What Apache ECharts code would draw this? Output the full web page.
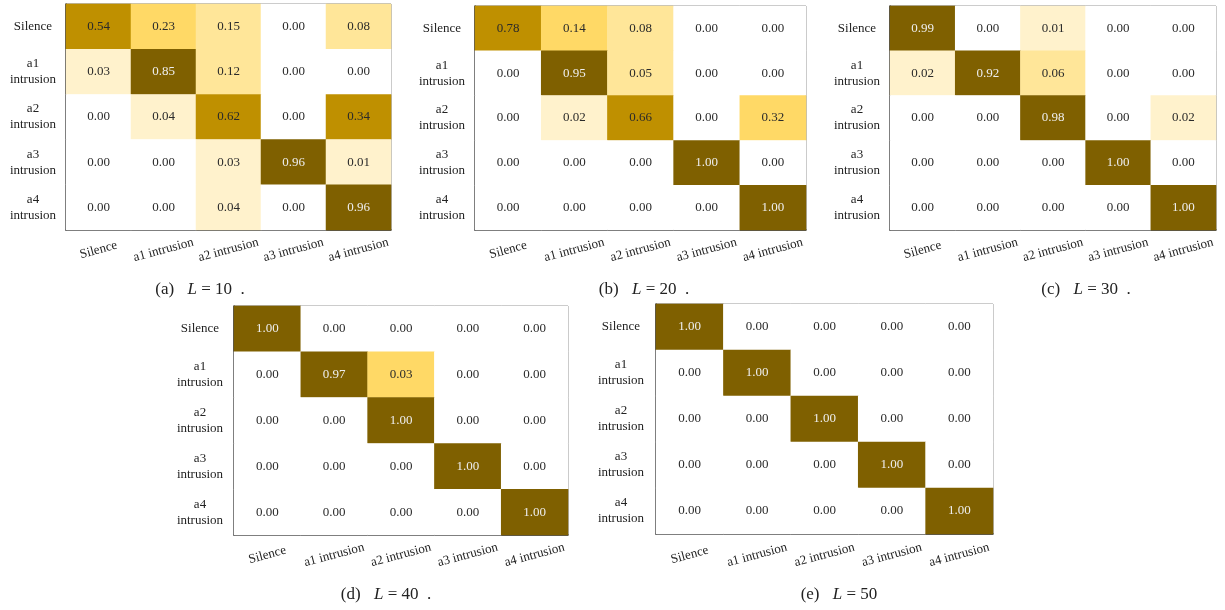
<!DOCTYPE html>
<html>
<head>
<meta charset="utf-8">
<script src="https://cdn.jsdelivr.net/npm/echarts@6/dist/echarts.min.js"></script>
<style>
  html, body { margin: 0; padding: 0; background: #fff; }
  #main { width: 1225px; height: 610px; }
</style>
</head>
<body>
<div id="main"></div>
<script>
// axis categories
const xLabels = ['Silence', 'a1 intrusion', 'a2 intrusion', 'a3 intrusion', 'a4 intrusion'];
const yLabels = ['Silence', 'a1\nintrusion', 'a2\nintrusion', 'a3\nintrusion', 'a4\nintrusion'];

// confusion matrices (rows = true class, cols = predicted)
const valsA = [
  [0.54, 0.23, 0.15, 0.00, 0.08],
  [0.03, 0.85, 0.12, 0.00, 0.00],
  [0.00, 0.04, 0.62, 0.00, 0.34],
  [0.00, 0.00, 0.03, 0.96, 0.01],
  [0.00, 0.00, 0.04, 0.00, 0.96]
];
const valsB = [
  [0.78, 0.14, 0.08, 0.00, 0.00],
  [0.00, 0.95, 0.05, 0.00, 0.00],
  [0.00, 0.02, 0.66, 0.00, 0.32],
  [0.00, 0.00, 0.00, 1.00, 0.00],
  [0.00, 0.00, 0.00, 0.00, 1.00]
];
const valsC = [
  [0.99, 0.00, 0.01, 0.00, 0.00],
  [0.02, 0.92, 0.06, 0.00, 0.00],
  [0.00, 0.00, 0.98, 0.00, 0.02],
  [0.00, 0.00, 0.00, 1.00, 0.00],
  [0.00, 0.00, 0.00, 0.00, 1.00]
];
const valsD = [
  [1.00, 0.00, 0.00, 0.00, 0.00],
  [0.00, 0.97, 0.03, 0.00, 0.00],
  [0.00, 0.00, 1.00, 0.00, 0.00],
  [0.00, 0.00, 0.00, 1.00, 0.00],
  [0.00, 0.00, 0.00, 0.00, 1.00]
];
const valsE = [
  [1.00, 0.00, 0.00, 0.00, 0.00],
  [0.00, 1.00, 0.00, 0.00, 0.00],
  [0.00, 0.00, 1.00, 0.00, 0.00],
  [0.00, 0.00, 0.00, 1.00, 0.00],
  [0.00, 0.00, 0.00, 0.00, 1.00]
];

// shade class of each cell (0 = blank ... 5 = darkest)
const shadeA = [
  [4, 3, 2, 0, 2],
  [1, 5, 2, 0, 0],
  [0, 1, 4, 0, 4],
  [0, 0, 1, 5, 1],
  [0, 0, 1, 0, 5]
];
const shadeB = [
  [4, 3, 2, 0, 0],
  [0, 5, 2, 0, 0],
  [0, 1, 4, 0, 3],
  [0, 0, 0, 5, 0],
  [0, 0, 0, 0, 5]
];
const shadeC = [
  [5, 0, 1, 0, 0],
  [1, 5, 2, 0, 0],
  [0, 0, 5, 0, 1],
  [0, 0, 0, 5, 0],
  [0, 0, 0, 0, 5]
];
const shadeD = [
  [5, 0, 0, 0, 0],
  [0, 5, 3, 0, 0],
  [0, 0, 5, 0, 0],
  [0, 0, 0, 5, 0],
  [0, 0, 0, 0, 5]
];
const shadeE = [
  [5, 0, 0, 0, 0],
  [0, 5, 0, 0, 0],
  [0, 0, 5, 0, 0],
  [0, 0, 0, 5, 0],
  [0, 0, 0, 0, 5]
];

const captionTags = ['(a)', '(b)', '(c)', '(d)', '(e)'];
const captionL = ['10', '20', '30', '40', '50'];
const captionDot = ['  .', '  .', '  .', '  .', ''];

const shadeColors = ['#ffffff', '#fff2cc', '#ffe699', '#ffd966', '#bf9000', '#7f6000'];

const panels = [
  { vals: valsA, shade: shadeA, left: 66,  top: 4,   width: 325, height: 226, ym: 33, xm: 20, cx: 200, cy: 290 },
  { vals: valsB, shade: shadeB, left: 475, top: 6,   width: 331, height: 224, ym: 33, xm: 20, cx: 644, cy: 290 },
  { vals: valsC, shade: shadeC, left: 890, top: 6,   width: 326, height: 224, ym: 33, xm: 20, cx: 1086, cy: 290 },
  { vals: valsD, shade: shadeD, left: 234, top: 306, width: 334, height: 229, ym: 34, xm: 20, cx: 386, cy: 595 },
  { vals: valsE, shade: shadeE, left: 656, top: 304, width: 337, height: 230, ym: 35, xm: 21, cx: 839, cy: 595 }
];

const FONT = '"Liberation Serif", "DejaVu Serif", serif';

const grids = [], xAxes = [], yAxes = [], cells = [], texts = [], graphics = [];

panels.forEach((p, i) => {
  grids.push({
    left: p.left, top: p.top, width: p.width, height: p.height,
    show: true, borderColor: '#777', borderWidth: 1, backgroundColor: '#fff'
  });
  xAxes.push({
    type: 'category', gridIndex: i, data: xLabels, position: 'bottom',
    axisLine: { show: true, lineStyle: { color: '#333', width: 1.5 } },
    axisTick: { show: false }, splitLine: { show: false },
    axisLabel: {
      rotate: 15, align: 'center', verticalAlign: 'middle', margin: p.xm,
      fontFamily: FONT, fontSize: 13, color: '#222', interval: 0
    }
  });
  yAxes.push({
    type: 'category', gridIndex: i, data: yLabels, inverse: true,
    axisLine: { show: true, lineStyle: { color: '#333', width: 1.5 } },
    axisTick: { show: false }, splitLine: { show: false },
    axisLabel: {
      align: 'center', margin: p.ym, lineHeight: 16,
      fontFamily: FONT, fontSize: 13, color: '#222', interval: 0
    }
  });
  const data = [];
  p.vals.forEach((row, r) => {
    row.forEach((v, c) => {
      data.push([c, r, v, p.shade[r][c]]);
    });
  });
  // coloured cells
  cells.push({
    type: 'heatmap', xAxisIndex: i, yAxisIndex: i, data: data,
    itemStyle: { borderWidth: 0 },
    emphasis: { disabled: true },
    label: { show: false }
  });
  // cell values, drawn as plain text on top of the cells
  texts.push({
    type: 'custom', coordinateSystem: 'cartesian2d',
    xAxisIndex: i, yAxisIndex: i, data: data, silent: true, z: 10,
    renderItem: (params, api) => {
      const pt = api.coord([api.value(0), api.value(1)]);
      return {
        type: 'text', x: pt[0], y: pt[1],
        style: {
          text: api.value(2).toFixed(2),
          fill: api.value(3) === 5 ? '#eeeeee' : '#2a2a2a',
          font: '13px ' + FONT,
          align: 'center', verticalAlign: 'middle'
        }
      };
    }
  });
  graphics.push({
    type: 'text', x: p.cx, y: p.cy, silent: true,
    style: {
      text: '{n|' + captionTags[i] + '}    {it|L}{n| = ' + captionL[i] + captionDot[i] + '}',
      align: 'center', verticalAlign: 'middle',
      rich: {
        n: { fontFamily: FONT, fontSize: 17, fill: '#222' },
        it: { fontFamily: FONT, fontSize: 17, fontStyle: 'italic', fill: '#222' }
      }
    }
  });
});

const chart = echarts.init(document.getElementById('main'), null, { renderer: 'canvas' });
chart.setOption({
  backgroundColor: '#ffffff',
  animation: false,
  grid: grids,
  xAxis: xAxes,
  yAxis: yAxes,
  visualMap: {
    type: 'piecewise', show: false, dimension: 3,
    seriesIndex: [0, 1, 2, 3, 4],
    pieces: shadeColors.map((c, k) => ({ value: k, color: c }))
  },
  series: cells.concat(texts),
  graphic: graphics
});
</script>
</body>
</html>
